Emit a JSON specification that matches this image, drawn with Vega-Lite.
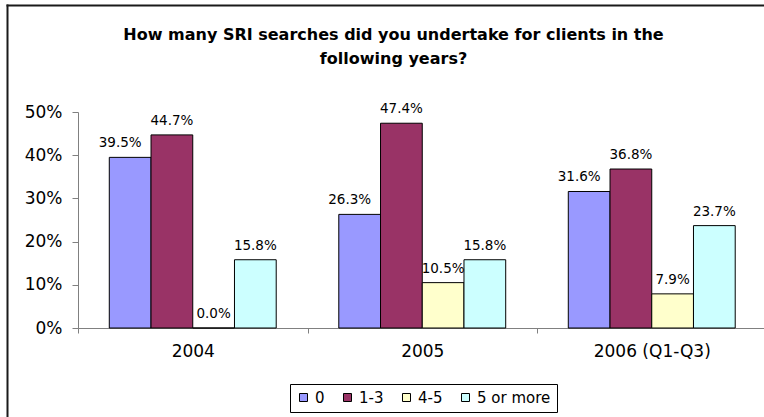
{
  "$schema": "https://vega.github.io/schema/vega-lite/v6.json",
  "autosize": {"type": "none"},
  "padding": {"left": 7, "top": 5, "right": 0, "bottom": 0},
  "width": 757,
  "height": 412,
  "title": {
    "text": ["How many SRI searches did you undertake for clients in the", "following years?"],
    "font": "DejaVu Sans",
    "fontSize": 16,
    "fontWeight": "bold",
    "color": "black",
    "lineHeight": 24,
    "anchor": "middle",
    "frame": "group",
    "offset": -62,
    "dx": 8
  },
  "data": {
    "values": [
      {"year": "2004", "band": "0", "value": 0.395},
      {"year": "2004", "band": "1-3", "value": 0.447},
      {"year": "2004", "band": "4-5", "value": 0.0},
      {"year": "2004", "band": "5 or more", "value": 0.158},
      {"year": "2005", "band": "0", "value": 0.263},
      {"year": "2005", "band": "1-3", "value": 0.474},
      {"year": "2005", "band": "4-5", "value": 0.105},
      {"year": "2005", "band": "5 or more", "value": 0.158},
      {"year": "2006 (Q1-Q3)", "band": "0", "value": 0.316},
      {"year": "2006 (Q1-Q3)", "band": "1-3", "value": 0.368},
      {"year": "2006 (Q1-Q3)", "band": "4-5", "value": 0.079},
      {"year": "2006 (Q1-Q3)", "band": "5 or more", "value": 0.237}
    ]
  },
  "layer": [
    {
      "encoding": {
        "x": {
          "field": "year",
          "type": "nominal",
          "sort": ["2004", "2005", "2006 (Q1-Q3)"],
          "scale": {"range": [71, 759.5], "paddingInner": 0, "paddingOuter": 0},
          "axis": {
            "title": null,
            "orient": "bottom",
            "offset": -89,
            "labelAngle": 0,
            "tickBand": "extent",
            "ticks": true,
            "tickSize": 5,
            "tickColor": "#808080",
            "domainColor": "#808080",
            "labelFont": "DejaVu Sans",
            "labelFontSize": 17,
            "labelColor": "black",
            "labelPadding": 10,
            "grid": false
          }
        },
        "xOffset": {
          "field": "band",
          "type": "nominal",
          "sort": ["0", "1-3", "4-5", "5 or more"],
          "scale": {"paddingInner": 0, "paddingOuter": 0.75}
        },
        "y": {
          "field": "value",
          "type": "quantitative",
          "scale": {"domain": [0, 0.5], "range": [323, 107], "nice": false},
          "axis": {
            "title": null,
            "orient": "left",
            "offset": -71,
            "values": [0, 0.1, 0.2, 0.3, 0.4, 0.5],
            "format": ".0%",
            "grid": false,
            "tickSize": 6,
            "tickColor": "#808080",
            "domainColor": "#808080",
            "labelFont": "DejaVu Sans",
            "labelFontSize": 17,
            "labelColor": "black",
            "labelPadding": 10
          }
        }
      },
      "layer": [
        {
          "mark": {"type": "bar", "stroke": "black", "strokeWidth": 1},
          "encoding": {
            "color": {
              "field": "band",
              "type": "nominal",
              "scale": {
                "domain": ["0", "1-3", "4-5", "5 or more"],
                "range": ["#9999FF", "#993366", "#FFFFCC", "#CCFFFF"]
              },
              "legend": {
                "orient": "none",
                "legendX": 283,
                "legendY": 379,
                "direction": "horizontal",
                "columns": 4,
                "gridAlign": "none",
                "title": null,
                "strokeColor": "black",
                "padding": 6,
                "symbolType": "square",
                "symbolSize": 64,
                "symbolStrokeColor": "black",
                "symbolStrokeWidth": 1,
                "symbolOpacity": 1,
                "labelFont": "DejaVu Sans",
                "labelFontSize": 15,
                "labelColor": "black",
                "labelOffset": 4,
                "columnPadding": 15
              }
            }
          }
        },
        {
          "transform": [{"filter": "datum.band != '0'"}],
          "mark": {"type": "text", "baseline": "alphabetic", "dy": -10, "font": "DejaVu Sans", "fontSize": 13.5, "color": "black"},
          "encoding": {"text": {"field": "value", "type": "quantitative", "format": ".1%"}}
        },
        {
          "transform": [{"filter": "datum.band == '0'"}],
          "mark": {"type": "text", "baseline": "alphabetic", "dy": -10, "dx": -10, "font": "DejaVu Sans", "fontSize": 13.5, "color": "black"},
          "encoding": {"text": {"field": "value", "type": "quantitative", "format": ".1%"}}
        }
      ]
    },
    {
      "mark": {"type": "point", "opacity": 0},
      "encoding": {
        "x": {
          "field": "year",
          "type": "nominal",
          "scale": {"range": [0, 757]},
          "axis": {
            "orient": "top",
            "offset": 0,
            "title": null,
            "labels": false,
            "ticks": false,
            "grid": false,
            "domain": true,
            "domainColor": "#1a1a1a",
            "domainWidth": 2,
            "domainCap": "square"
          }
        },
        "y": {
          "field": "value",
          "type": "quantitative",
          "scale": {"range": [412, 0]},
          "axis": {
            "orient": "left",
            "offset": 0,
            "title": null,
            "labels": false,
            "ticks": false,
            "grid": false,
            "domain": true,
            "domainColor": "#1a1a1a",
            "domainWidth": 2,
            "domainCap": "square"
          }
        }
      }
    }
  ],
  "resolve": {
    "scale": {"x": "independent", "y": "independent"},
    "axis": {"x": "independent", "y": "independent"}
  },
  "config": {
    "view": {"stroke": null},
    "background": "white"
  }
}
